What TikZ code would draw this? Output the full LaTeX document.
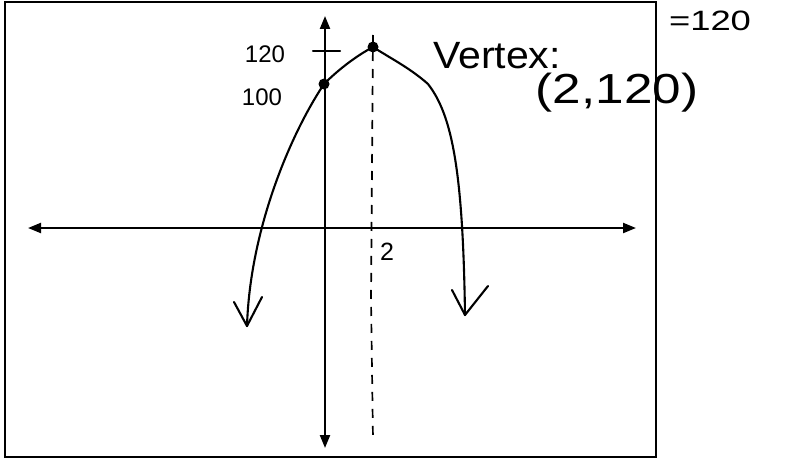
\documentclass[tikz,border=0pt]{standalone}
\usepackage{fontspec}
\setmainfont{Liberation Sans}
\usetikzlibrary{arrows.meta}
\begin{document}
\begin{tikzpicture}[x=1pt,y=-1pt,
  frame/.style={line width=2pt},
  axis/.style={line width=2.2pt,{Triangle[length=13pt,width=10pt]}-{Triangle[length=13pt,width=10pt]}},
  curve/.style={line width=2.1pt,line join=round,line cap=round},
  sym/.style={line width=1.7pt,dash pattern=on 9pt off 8pt},
  dot/.style={circle,fill=black,inner sep=0pt,minimum size=11pt},
  hand/.style={inner sep=0pt}]
\useasboundingbox (0,0) rectangle (787,460);
\fill[white] (0,0) rectangle (787,460);
\draw[frame] (5,2) rectangle (656,457);
% axes
\coordinate (xl) at (28,228);
\coordinate (xr) at (636,228);
\coordinate (yt) at (325,16);
\coordinate (yb) at (325,448);
\draw[axis] (xl) -- (xr);
\draw[axis] (yt) -- (yb);
% axis of symmetry
\coordinate (st) at (373,35);
\coordinate (sm) at (371,300);
\coordinate (sb) at (373,440);
\draw[sym] (st) -- (sm) -- (sb);
% tick at 120
\coordinate (tl) at (313,51);
\coordinate (tr) at (340,51);
\draw[curve] (tl) -- (tr);
% parabola
\node[dot] (v) at (373,47) {};
\node[dot] (p) at (324,84) {};
\coordinate (le) at (247,326);
\coordinate (rs) at (428,84);
\coordinate (re) at (465,315);
\draw[curve] (le) .. controls (250,230) and (290,135) .. (p.center)
  .. controls (340,68) and (358,55) .. (v.center)
  .. controls (390,58) and (410,68) .. (rs)
  .. controls (452,115) and (463,170) .. (re);
% hand-drawn arrow ends
\coordinate (la) at (234,302);
\coordinate (lb) at (262,297);
\coordinate (ra) at (452,290);
\coordinate (rb) at (488,286);
\draw[curve] (la) -- (le) -- (lb);
\draw[curve] (ra) -- (re) -- (rb);
% labels
\node[hand,font=\fontsize{24}{24}\selectfont] (l120) at (265,54) {120};
\node[hand,font=\fontsize{24}{24}\selectfont] (l100) at (262,97) {100};
\node[hand,font=\fontsize{38}{38}\selectfont,xscale=1.08] (vx) at (497,56) {Vertex:};
\node[hand,font=\fontsize{42}{42}\selectfont,xscale=1.22] (vc) at (617,93) {(2,120)};
\node[hand,font=\fontsize{28}{28}\selectfont,xscale=1.3] (eq) at (710,21) {=120};
\node[hand,font=\fontsize{25}{25}\selectfont] (l2) at (387,252) {2};
\end{tikzpicture}
\end{document}
